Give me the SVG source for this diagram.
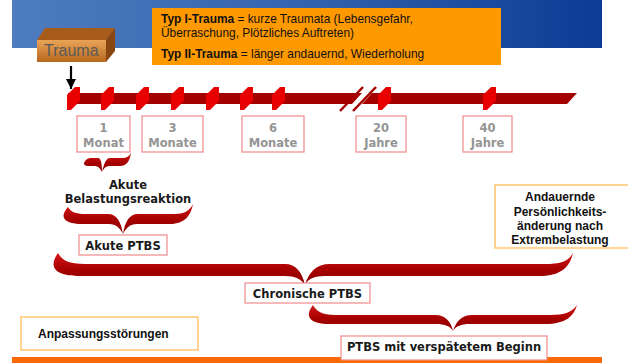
<svg xmlns="http://www.w3.org/2000/svg" width="628" height="363" viewBox="0 0 628 363">
<defs>
<linearGradient id="blue" x1="0" y1="0" x2="1" y2="0">
<stop offset="0" stop-color="#4d7dbf"/>
<stop offset="0.5" stop-color="#3562ad"/>
<stop offset="1" stop-color="#0a3c95"/>
</linearGradient>
<linearGradient id="front" x1="0" y1="0" x2="0" y2="1">
<stop offset="0" stop-color="#e9a457"/>
<stop offset="1" stop-color="#b8681e"/>
</linearGradient>
<linearGradient id="brace" x1="0" y1="0" x2="0" y2="1">
<stop offset="0" stop-color="#d41818"/>
<stop offset="0.5" stop-color="#a80000"/>
<stop offset="1" stop-color="#8c0000"/>
</linearGradient>
<marker id="ah" viewBox="0 0 10 10" refX="10" refY="5" markerWidth="10" markerHeight="10" markerUnits="userSpaceOnUse" orient="auto">
<path d="M0,0 L10,5 L0,10 Z" fill="#000"/>
</marker>
<style>
.t{font-family:"DejaVu Sans",Verdana,sans-serif;font-weight:bold;font-size:11.5px;}
.gray{fill:#949494;text-anchor:middle;}
.dark{fill:#1a1a1a;text-anchor:middle;}
.lbl{fill:#fff;stroke:#f08a8a;stroke-width:1.2;}
.obox{fill:#fff;stroke:#ffb84d;stroke-width:1.2;}
.a{font-family:"Liberation Sans",Arial,sans-serif;font-size:11.9px;fill:#111;}
.ab{font-family:"Liberation Sans",Arial,sans-serif;font-size:12px;font-weight:bold;fill:#111;}
.mk{fill:#e80000;}
.br{fill:url(#brace);}
</style>
</defs>

<rect x="12" y="0" width="590" height="48" fill="url(#blue)"/>
<rect x="12" y="357" width="590" height="6" fill="#ff6a00"/>

<g id="typbox">
<rect x="152" y="8" width="349" height="57" fill="#ff9900"/>
<text class="a" x="161" y="23"><tspan font-weight="bold">Typ I-Trauma</tspan> = kurze Traumata (Lebensgefahr,</text>
<text class="a" x="161" y="37">Überraschung, Plötzliches Auftreten)</text>
<text class="a" x="161" y="58"><tspan font-weight="bold">Typ II-Trauma</tspan> = länger andauernd, Wiederholung</text>
</g>

<g id="trauma">
<polygon points="37,40 45,28 115,28 106,40" fill="#a85c1c"/>
<polygon points="106,40 115,28 115,51 106,62" fill="#8a4610"/>
<rect x="37" y="40" width="69" height="22" fill="url(#front)"/>
<text x="44" y="56" font-family="Liberation Sans,Arial,sans-serif" font-size="16" fill="#5a5a5a">Trauma</text>
</g>

<g id="connectors">
<line x1="71" y1="66" x2="71" y2="89" stroke="#000" stroke-width="2.2" marker-end="url(#ah)"/>
</g>

<g id="timeline">
<polygon points="68,93 362,93 352,104 68,104" fill="#a50000"/>
<polygon points="372,93 577,93 567,104 362,104" fill="#a50000"/>
<line x1="340" y1="111" x2="363" y2="87" stroke="#a50000" stroke-width="2.5"/>
<line x1="353" y1="111" x2="376" y2="87" stroke="#a50000" stroke-width="2.5"/>
<g class="mk">
<path d="M67,95 L75,87 L80,87 L80,101 L71,110 L67,110 Z"/>
<path d="M101,95 L109,87 L114,87 L114,101 L105,110 L101,110 Z"/>
<path d="M136,95 L144,87 L149,87 L149,101 L140,110 L136,110 Z"/>
<path d="M171,95 L179,87 L184,87 L184,101 L175,110 L171,110 Z"/>
<path d="M206,95 L214,87 L219,87 L219,101 L210,110 L206,110 Z"/>
<path d="M240,95 L248,87 L253,87 L253,101 L244,110 L240,110 Z"/>
<path d="M272,95 L280,87 L285,87 L285,101 L276,110 L272,110 Z"/>
<path d="M378,95 L386,87 L391,87 L391,101 L382,110 L378,110 Z"/>
<path d="M483,95 L491,87 L496,87 L496,101 L487,110 L483,110 Z"/>
</g>
</g>

<g id="t1"><rect class="lbl" x="77" y="116" width="53" height="36"/><text class="t gray" x="103.5" y="132">1</text><text class="t gray" x="103.5" y="147">Monat</text></g>
<g id="t3"><rect class="lbl" x="142" y="116" width="61" height="36"/><text class="t gray" x="172.5" y="132">3</text><text class="t gray" x="172.5" y="147">Monate</text></g>
<g id="t6"><rect class="lbl" x="242" y="116" width="62" height="36"/><text class="t gray" x="273" y="132">6</text><text class="t gray" x="273" y="147">Monate</text></g>
<g id="t20"><rect class="lbl" x="356" y="116" width="50" height="36"/><text class="t gray" x="381" y="132">20</text><text class="t gray" x="381" y="147">Jahre</text></g>
<g id="t40"><rect class="lbl" x="463" y="116" width="49" height="36"/><text class="t gray" x="487.5" y="132">40</text><text class="t gray" x="487.5" y="147">Jahre</text></g>

<g id="braces">
<path class="br" d="M86,160 C88,158 90,158 93,158 L98,158 C101,158 102,164 102,172 C104,164 106,158 110,158 L122,158 C127,158 129,156 131,153 C130,160 127,166 120,166 L110,166 C106,166 104,168 102,172 C100,168 98,166 95,166 L90,166 C84,166 82,164 86,160 Z"/>
<path class="br" d="M68,207 C71,212 76,214 85,214 L108,214 C117,214 121,222 123,234 C125,222 129,214 138,214 L175,214 C185,214 190,210 193,204 C191,215 185,224 170,224 L137,224 C130,224 126,228 123,234 C120,228 116,224 109,224 L82,224 C66,224 58,218 68,207 Z"/>
<path class="br" d="M58,253 C62,260 68,264 85,264 L285,264 C296,264 302,272 305,285 C309,272 316,264 330,264 L545,264 C560,264 568,262 573,253 C570,266 562,276 540,276 L325,276 C314,276 308,279 305,285 C301,279 295,276 285,276 L80,276 C60,276 46,270 58,253 Z"/>
<path class="br" d="M313,305 C316,311 322,315 335,315 L435,315 C446,315 451,322 453,331 C456,322 461,315 472,315 L550,315 C565,315 572,312 577,305 C574,316 566,324 545,324 L470,324 C461,324 456,326 453,331 C450,326 445,324 436,324 L330,324 C312,324 303,318 313,305 Z"/>
</g>

<g id="akbel"><text class="t dark" x="128" y="189">Akute</text><text class="t dark" x="128" y="203">Belastungsreaktion</text></g>
<g id="akptbs"><rect class="lbl" x="79" y="235" width="88" height="20"/><text class="t dark" x="123" y="250">Akute PTBS</text></g>
<g id="chron"><rect class="lbl" x="245" y="283" width="125" height="20"/><text class="t dark" x="307.5" y="298">Chronische PTBS</text></g>
<g id="spaet"><rect class="lbl" x="341" y="336" width="206" height="24"/><text class="t dark" x="444" y="351">PTBS mit verspätetem Beginn</text></g>

<g id="anpass"><rect class="obox" x="21" y="317" width="177" height="33"/><text class="ab" x="38" y="338">Anpassungsstörungen</text></g>
<g id="andauernd"><rect class="obox" x="495" y="185" width="140" height="63"/>
<text class="ab" x="560" y="201" text-anchor="middle">Andauernde</text>
<text class="ab" x="560" y="215.5" text-anchor="middle">Persönlichkeits-</text>
<text class="ab" x="560" y="230" text-anchor="middle">änderung nach</text>
<text class="ab" x="560" y="244" text-anchor="middle">Extrembelastung</text>
</g>
</svg>
